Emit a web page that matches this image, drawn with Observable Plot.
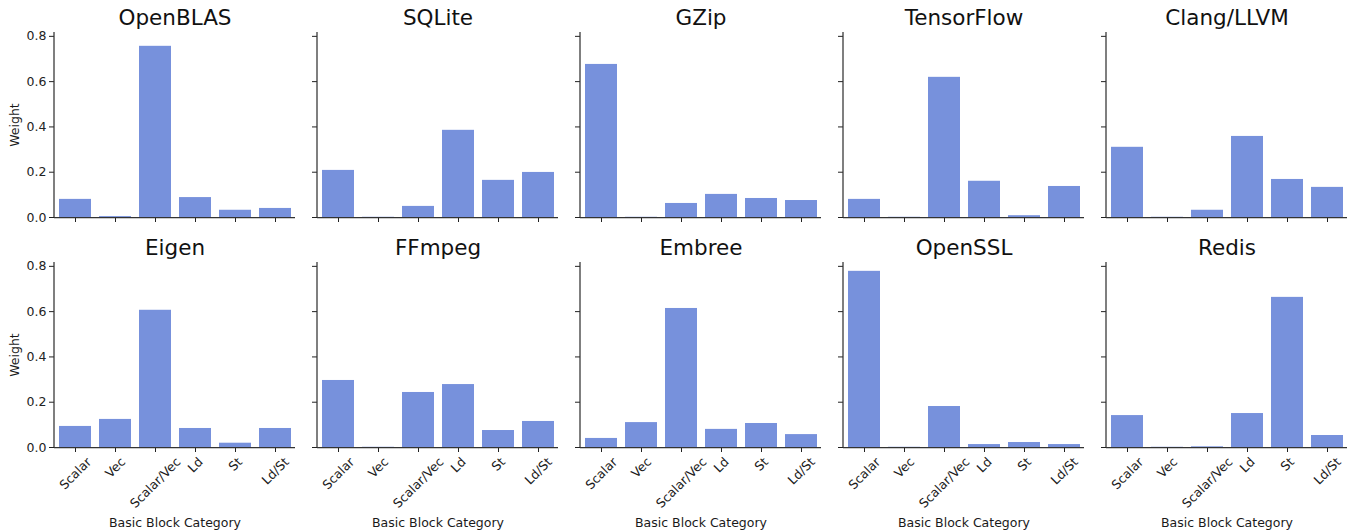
<!DOCTYPE html>
<html>
<head>
<meta charset="utf-8">
<script src="https://cdn.jsdelivr.net/npm/d3@7"></script>
<script src="https://cdn.jsdelivr.net/npm/@observablehq/plot@0.6"></script>
<style>
  html, body { margin: 0; padding: 0; background: #fff; }
  #wrap { position: relative; width: 1356px; height: 531px; overflow: hidden; }
  .panel { position: absolute; }
</style>
</head>
<body>
<div id="wrap"></div>
<script>
// ---- data ----
const categories = ["Scalar", "Vec", "Scalar/Vec", "Ld", "St", "Ld/St"];
const yTicks = [0, 0.2, 0.4, 0.6, 0.8];

const benchmarksRow1 = ["OpenBLAS", "SQLite", "GZip", "TensorFlow", "Clang/LLVM"];
const benchmarksRow2 = ["Eigen", "FFmpeg", "Embree", "OpenSSL", "Redis"];

const openblas   = [0.080, 0.004, 0.756, 0.088, 0.032, 0.040];
const sqlite     = [0.208, 0.001, 0.049, 0.385, 0.164, 0.199];
const gzip       = [0.676, 0.001, 0.062, 0.102, 0.084, 0.075];
const tensorflow = [0.080, 0.001, 0.619, 0.160, 0.008, 0.137];
const clang      = [0.310, 0.001, 0.032, 0.358, 0.168, 0.133];
const eigen      = [0.093, 0.124, 0.606, 0.084, 0.019, 0.084];
const ffmpeg     = [0.296, 0.001, 0.243, 0.278, 0.075, 0.115];
const embree     = [0.040, 0.110, 0.614, 0.080, 0.106, 0.057];
const openssl    = [0.778, 0.001, 0.181, 0.013, 0.022, 0.013];
const redis      = [0.141, 0.001, 0.003, 0.150, 0.663, 0.053];

const seriesByName = {
  "OpenBLAS": openblas, "SQLite": sqlite, "GZip": gzip, "TensorFlow": tensorflow, "Clang/LLVM": clang,
  "Eigen": eigen, "FFmpeg": ffmpeg, "Embree": embree, "OpenSSL": openssl, "Redis": redis
};

// ---- style ----
const barColor = "#7791dc";
const ink = "#1a1a1a";
const fontFamily = "'DejaVu Sans', sans-serif";
const tickFont = 12.5;
const labelFont = 12.5;
const titleFont = 21.5;

const yMax = 0.817;

const canvas = document.createElement("canvas");
const ctx = canvas.getContext("2d");
ctx.font = `${tickFont}px 'DejaVu Sans'`;
function textWidth(s) { return ctx.measureText(s).width; }

function leftSpine(index, scales, values, dims) {
  const line = document.createElementNS("http://www.w3.org/2000/svg", "line");
  const x = dims.marginLeft;
  line.setAttribute("x1", x);
  line.setAttribute("x2", x);
  line.setAttribute("y1", dims.marginTop);
  line.setAttribute("y2", dims.height - dims.marginBottom);
  line.setAttribute("stroke", "#333");
  line.setAttribute("stroke-width", 1.25);
  return line;
}

const wrap = document.getElementById("wrap");

[benchmarksRow1, benchmarksRow2].forEach((row, r) => {
  row.forEach((name, c) => {
    const vals = seriesByName[name];
    const data = categories.map((cat, i) => ({cat, value: vals[i]}));
    const bottom = r === 1;
    const height = bottom ? 301 : 230;
    const marginBottom = bottom ? 84 : 13;

    const marks = [
      Plot.barY(data, {x: "cat", y: "value", fill: barColor}),
      Plot.ruleY([0], {stroke: "#333", strokeWidth: 1.25}),
      leftSpine,
      Plot.text([name], {frameAnchor: "top", lineAnchor: "middle", textAnchor: "middle", dy: -14, fontSize: titleFont, fill: "#111"})
    ];
    if (c === 0) {
      marks.push(Plot.text(["Weight"], {frameAnchor: "left", lineAnchor: "middle", textAnchor: "middle", rotate: -90, dx: -40, fontSize: labelFont, fill: ink}));
    }
    if (bottom) {
      categories.forEach(cat => {
        const L = textWidth(cat);
        const off = 8 + (L + tickFont) / (2 * Math.SQRT2);
        marks.push(Plot.text([cat], {x: d => d, frameAnchor: "bottom", lineAnchor: "middle", textAnchor: "middle", rotate: -45, dy: off, fontSize: tickFont, fill: ink}));
      });
      marks.push(Plot.text(["Basic Block Category"], {frameAnchor: "bottom", lineAnchor: "middle", textAnchor: "middle", dy: 75, fontSize: labelFont, fill: ink}));
    }

    const chart = Plot.plot({
      width: 300,
      height,
      marginLeft: 54,
      marginRight: 5,
      marginTop: 32,
      marginBottom,
      style: {fontFamily, fontSize: `${tickFont}px`, color: "#222", background: "transparent", overflow: "visible"},
      x: {domain: categories, paddingInner: 0.2, paddingOuter: 0.1, axis: "bottom", tickSize: 5, tickFormat: () => "", label: null},
      y: {domain: [0, yMax], axis: "left", ticks: yTicks, tickSize: 5, tickPadding: 3,
          tickFormat: c === 0 ? d3.format(".1f") : () => "", label: null},
      marks
    });
    const div = document.createElement("div");
    div.className = "panel";
    div.style.left = `${263 * c}px`;
    div.style.top = `${230 * r}px`;
    div.appendChild(chart);
    wrap.appendChild(div);
  });
});
</script>
</body>
</html>
